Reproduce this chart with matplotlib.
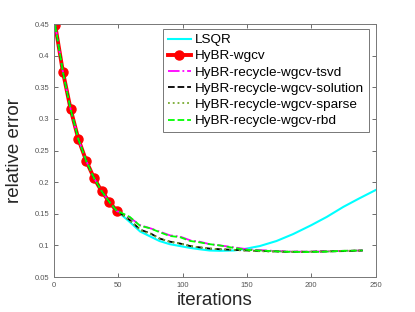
import matplotlib
matplotlib.use("Agg")
import matplotlib.pyplot as plt

plt.rcParams["font.family"] = ["Liberation Sans", "DejaVu Sans"]

# shared early part (iterations 1..49, every 6)
it_early = [1, 7, 13, 19, 25, 31, 37, 43, 49]
err_early = [0.448, 0.374, 0.315, 0.268, 0.234, 0.207, 0.186, 0.169, 0.154]

# LSQR after iteration 49
it_lsqr = [51, 59, 67, 75, 82, 90, 98, 106, 113, 121, 129, 140, 147, 160, 173, 186, 200, 212, 225, 237, 250]
err_lsqr = [0.151, 0.137, 0.122, 0.114, 0.107, 0.102, 0.099, 0.096, 0.094, 0.092, 0.0915, 0.092, 0.094,
            0.099, 0.107, 0.118, 0.132, 0.145, 0.161, 0.174, 0.1875]

# recycled variants after iteration 49
it_rec = [51, 59, 67, 75, 82, 90, 98, 106, 113, 121, 129, 140, 150, 165, 180, 195, 210, 225, 240]
err_tsvd = [0.153, 0.144, 0.132, 0.127, 0.122, 0.116, 0.114, 0.108, 0.106, 0.102, 0.100, 0.097, 0.094,
            0.092, 0.0905, 0.090, 0.0905, 0.0915, 0.092]
err_rbd = [0.153, 0.145, 0.131, 0.127, 0.121, 0.115, 0.113, 0.107, 0.105, 0.102, 0.100, 0.096, 0.093,
           0.0915, 0.090, 0.0895, 0.090, 0.0915, 0.092]
err_solution = [0.152, 0.140, 0.125, 0.119, 0.111, 0.106, 0.103, 0.099, 0.097, 0.095, 0.094, 0.093, 0.092,
                0.091, 0.090, 0.090, 0.0905, 0.091, 0.092]
err_sparse = [0.152, 0.139, 0.124, 0.118, 0.111, 0.106, 0.103, 0.099, 0.097, 0.095, 0.094, 0.093, 0.0915,
              0.0905, 0.090, 0.090, 0.0905, 0.0915, 0.092]

fig = plt.figure(figsize=(4.15, 3.12), dpi=100)
ax = fig.add_axes([0.130, 0.112, 0.775, 0.811])

ax.plot(it_early + it_lsqr, err_early + err_lsqr, color="cyan", lw=1.5, label="LSQR")
ax.plot(it_early, err_early, color="red", lw=2.8, marker="o", ms=6.5, label="HyBR-wgcv")
ax.plot(it_early + it_rec, err_early + err_tsvd, color="magenta", ls="-.", lw=1.3,
        label="HyBR-recycle-wgcv-tsvd")
ax.plot(it_early + it_rec, err_early + err_solution, color="black", ls="--", lw=1.3,
        label="HyBR-recycle-wgcv-solution")
ax.plot(it_early + it_rec, err_early + err_sparse, color=(0.47, 0.67, 0.19), ls=":", lw=1.3,
        label="HyBR-recycle-wgcv-sparse")
ax.plot(it_early + it_rec, err_early + err_rbd, color=(0, 1, 0), ls="--", lw=1.3,
        label="HyBR-recycle-wgcv-rbd")

ax.set_xlim(0, 250)
ax.set_ylim(0.05, 0.45)
ax.set_xticks([0, 50, 100, 150, 200, 250])
ax.set_yticks([0.05, 0.1, 0.15, 0.2, 0.25, 0.3, 0.35, 0.4, 0.45])
ax.set_yticklabels(["0.05", "0.1", "0.15", "0.2", "0.25", "0.3", "0.35", "0.4", "0.45"])
ax.tick_params(direction="in", top=True, right=True, labelsize=5.5, colors="#555555",
               length=3, width=0.6)
for s in ax.spines.values():
    s.set_color("#777777")
    s.set_linewidth(0.7)

ax.set_xlabel("iterations", fontsize=13.5, color="#262626", labelpad=2)
ax.set_ylabel("relative error", fontsize=13.5, color="#262626", labelpad=8)

leg = ax.legend(loc="upper right", bbox_to_anchor=(0.979, 0.980), borderaxespad=0,
                fontsize=9.7, handlelength=1.7, handletextpad=0.3, labelspacing=0.28,
                fancybox=False, framealpha=1, borderpad=0.35)
leg.get_frame().set_edgecolor("#777777")
leg.get_frame().set_linewidth(0.7)

fig.savefig("out.png", dpi=100)
